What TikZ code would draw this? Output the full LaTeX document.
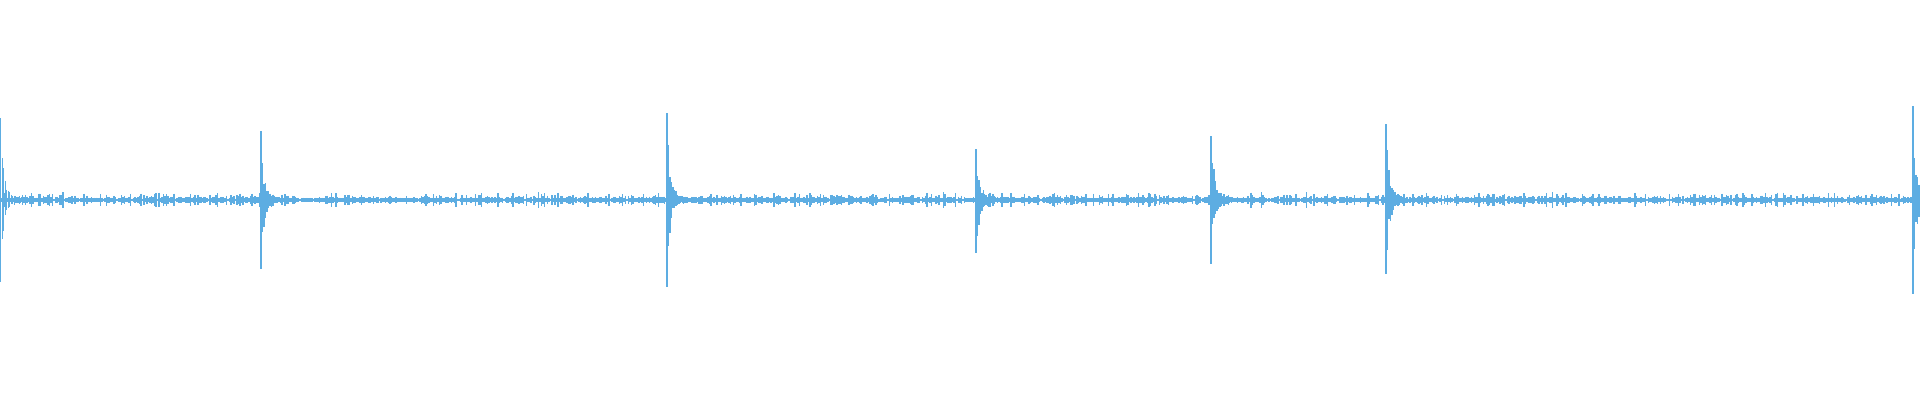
\documentclass[tikz,border=0pt]{standalone}
\begin{document}
\begin{tikzpicture}[x=1pt,y=-1pt]
\definecolor{wave}{HTML}{5DADE2}
\useasboundingbox (0,0) rectangle (1920,400);
\pgfmathsetseed{7}
\begin{scope}[wave,line width=1.3pt]
\foreach \x in {0,1.5,...,1920}{
  \pgfmathsetmacro\a{1.2+1.8*rnd+5*rnd^4}
  \draw (\x,200-\a) -- (\x,200+\a);
}
\foreach \s/\t/\b in {0.7/118/282,261/131/269,667/113/287,976/149/253,1211/136/264,1386/124/274,1913/106/294}{
  \draw[line width=1.5pt] (\s,\t) -- (\s,\b);
  \foreach \k in {1,...,40}{
    \pgfmathsetmacro\xx{\s+1.5*\k}
    \pgfmathsetmacro\u{(200-\t)*exp(-\k/1.8)*(0.4+0.6*rnd)+13*exp(-\k/9)*(0.5+0.5*rnd)}
    \pgfmathsetmacro\d{(\b-200)*exp(-\k/1.8)*(0.4+0.6*rnd)+13*exp(-\k/9)*(0.5+0.5*rnd)}
    \ifdim\xx pt<1920pt \draw (\xx,200-\u) -- (\xx,200+\d);\fi
  }
}
\end{scope}
\end{tikzpicture}
\end{document}
